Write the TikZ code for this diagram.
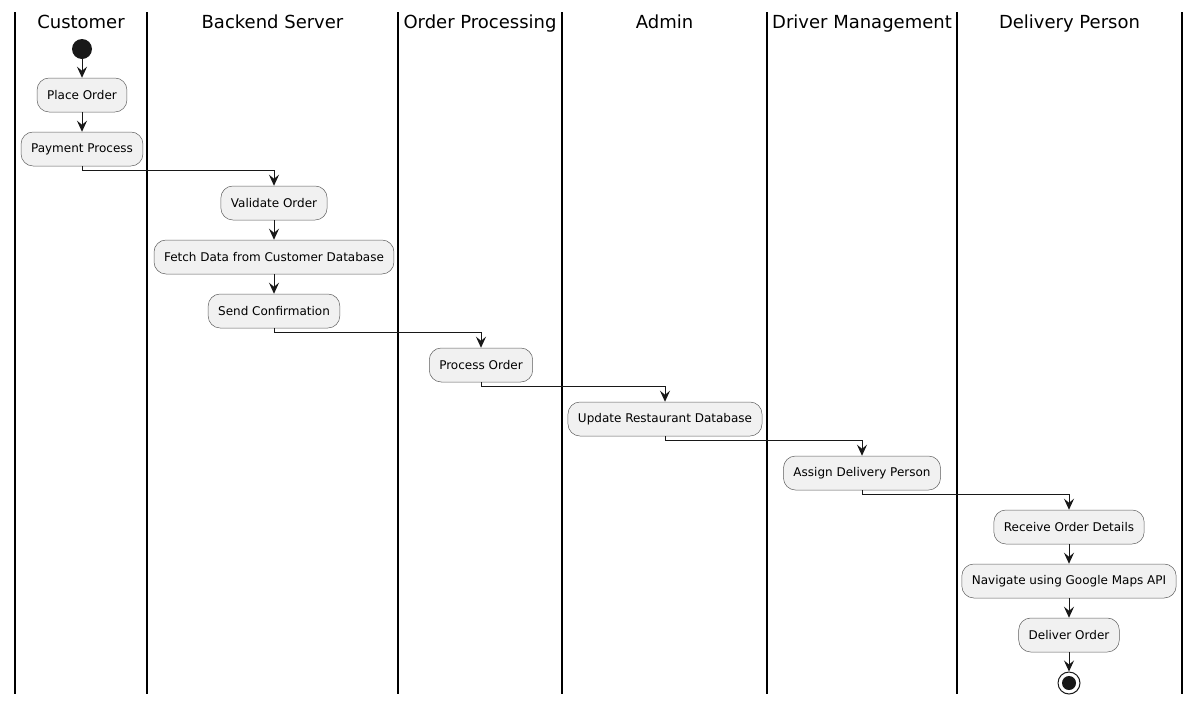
\documentclass[tikz,border=0pt]{standalone}
\usepackage{fontspec}
\setmainfont{DejaVu Sans}
\usetikzlibrary{arrows.meta}
\definecolor{boxfill}{HTML}{F1F1F1}
\definecolor{ink}{HTML}{181818}
\begin{document}
\begin{tikzpicture}[x=1pt,y=-1pt,
  act/.style={draw=ink!70, line width=0.5pt, fill=boxfill, rounded corners=12pt,
    minimum height=34pt, inner xsep=10pt, inner ysep=0pt, font=\fontsize{12}{14}\selectfont},
  lane/.style={line width=1.5pt, black},
  ttl/.style={font=\fontsize{18}{21}\selectfont, anchor=base},
  flow/.style={draw=ink, line width=1pt, -{Stealth[length=11pt,width=10pt,inset=4pt]}}
]
\useasboundingbox (0,0) rectangle (1200,705);
% lanes
\foreach \x in {15,147,398,562,767,957,1182} \draw[lane] (\x,12) -- (\x,694);
\node[ttl] (t1) at (81,28) {Customer};
\node[ttl] (t2) at (272.5,28) {Backend Server};
\node[ttl] (t3) at (480,28) {Order Processing};
\node[ttl] (t4) at (664.5,28) {Admin};
\node[ttl] (t5) at (862,28) {Driver Management};
\node[ttl] (t6) at (1069.5,28) {Delivery Person};
% nodes
\node[circle, fill=ink, minimum size=20pt, inner sep=0pt] (start) at (82,49) {};
\node[act] (a1) at (82,95) {Place Order};
\node[act] (a2) at (82,149) {Payment Process};
\node[act] (b1) at (274,203) {Validate Order};
\node[act] (b2) at (274,257) {Fetch Data from Customer Database};
\node[act] (b3) at (274,311) {Send Confirmation};
\node[act] (c1) at (481,365) {Process Order};
\node[act] (d1) at (665,419) {Update Restaurant Database};
\node[act] (e1) at (862,473) {Assign Delivery Person};
\node[act] (f1) at (1069,527) {Receive Order Details};
\node[act] (f2) at (1069,581) {Navigate using Google Maps API};
\node[act] (f3) at (1069,635) {Deliver Order};
\node[circle, draw=ink, line width=1pt, fill=white, minimum size=22pt, inner sep=0pt] (stop) at (1069,683) {};
\node[circle, fill=ink, minimum size=14pt, inner sep=0pt] (stopin) at (stop) {};
% connectors
\draw[flow] (start) -- (a1);
\draw[flow] (a1) -- (a2);
\draw[flow] (a2.south) -- ++(0,4) -| (b1.north);
\draw[flow] (b1) -- (b2);
\draw[flow] (b2) -- (b3);
\draw[flow] (b3.south) -- ++(0,4) -| (c1.north);
\draw[flow] (c1.south) -- ++(0,4) -| (d1.north);
\draw[flow] (d1.south) -- ++(0,4) -| (e1.north);
\draw[flow] (e1.south) -- ++(0,4) -| (f1.north);
\draw[flow] (f1) -- (f2);
\draw[flow] (f2) -- (f3);
\draw[flow] (f3) -- (stop);
\end{tikzpicture}
\end{document}
